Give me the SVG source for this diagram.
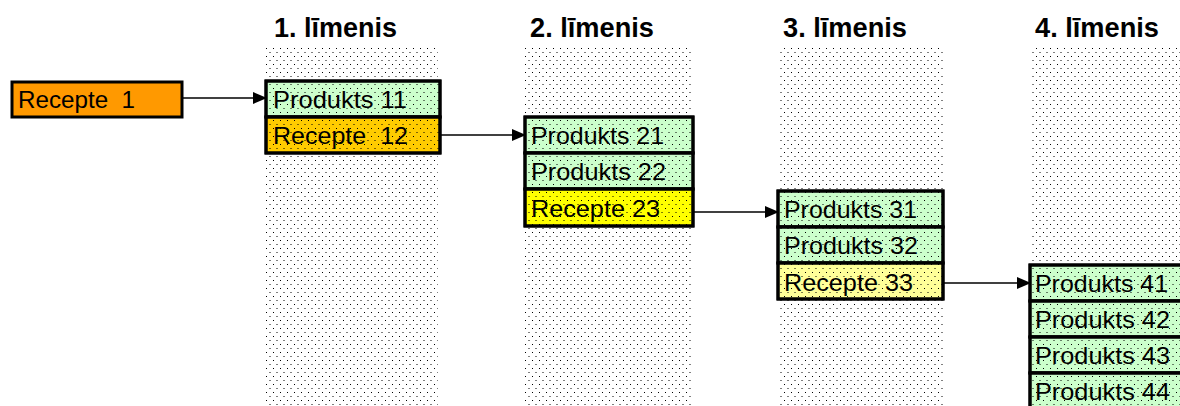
<svg xmlns="http://www.w3.org/2000/svg" width="1180" height="406" viewBox="0 0 1180 406">
  <defs>
    <pattern id="dots" patternUnits="userSpaceOnUse" width="7" height="8" x="0" y="0">
      <rect x="0" y="0" width="1" height="1" fill="#000"/>
      <rect x="3.5" y="4" width="1" height="1" fill="#000"/>
    </pattern>
    <marker id="arrow" markerWidth="14" markerHeight="12" refX="13" refY="6" orient="auto" markerUnits="userSpaceOnUse">
      <path d="M0,0 L14,6 L0,12 Z" fill="#000"/>
    </marker>
  </defs>
  <style>
    .hdr { font-family: "Liberation Sans", Arial, sans-serif; font-weight: bold; font-size: 27px; fill: #000; }
    .lbl { font-family: "Liberation Sans", Arial, sans-serif; font-size: 24px; fill: #000; }
    .cell { stroke: #000; stroke-width: 3; }
    .dots { fill: url(#dots); }
    .prod { fill: #CCFFCC; }
    .rec1 { fill: #FF9900; }
    .rec2 { fill: #FFCC00; }
    .rec3 { fill: #FFFF00; }
    .rec4 { fill: #FFFF99; }
    .link { stroke: #000; stroke-width: 1.6; fill: none; marker-end: url(#arrow); }
  </style>
  <rect width="1180" height="406" fill="#fff"/>

  <!-- level columns -->
  <g id="columns">
    <rect class="dots" x="266" y="47" width="172" height="359"/>
    <rect class="dots" x="525" y="47" width="168" height="359"/>
    <rect class="dots" x="778" y="47" width="166" height="359"/>
    <rect class="dots" x="1030" y="47" width="150" height="359"/>
    <text class="hdr" x="274" y="37" textLength="123" lengthAdjust="spacingAndGlyphs">1. līmenis</text>
    <text class="hdr" x="530" y="37" textLength="124" lengthAdjust="spacingAndGlyphs">2. līmenis</text>
    <text class="hdr" x="783" y="37" textLength="124" lengthAdjust="spacingAndGlyphs">3. līmenis</text>
    <text class="hdr" x="1035" y="37" textLength="124" lengthAdjust="spacingAndGlyphs">4. līmenis</text>
  </g>

  <!-- connectors -->
  <g id="connectors">
    <line class="link" x1="182" y1="98" x2="266" y2="98"/>
    <line class="link" x1="440" y1="135" x2="525" y2="135"/>
    <line class="link" x1="693" y1="212" x2="778" y2="212"/>
    <line class="link" x1="943" y1="283" x2="1030" y2="283"/>
  </g>

  <g id="recepte1">
    <rect class="cell rec1" x="12" y="82" width="170" height="35"/>
    <text class="lbl" x="18" y="108" textLength="117" lengthAdjust="spacingAndGlyphs">Recepte&#160; 1</text>
  </g>

  <g id="produkts11">
    <rect class="cell prod" x="266" y="81" width="174" height="36"/>
    <rect class="dots" x="266" y="81" width="174" height="36"/>
    <rect class="cell" x="266" y="81" width="174" height="36" fill="none"/>
    <text class="lbl" x="273" y="108" textLength="134" lengthAdjust="spacingAndGlyphs">Produkts 11</text>
  </g>
  <g id="recepte12">
    <rect class="cell rec2" x="266" y="117" width="174" height="36"/>
    <rect class="dots" x="266" y="117" width="174" height="36"/>
    <rect class="cell" x="266" y="117" width="174" height="36" fill="none"/>
    <text class="lbl" x="273" y="144" textLength="135" lengthAdjust="spacingAndGlyphs">Recepte&#160; 12</text>
  </g>

  <g id="produkts21">
    <rect class="cell prod" x="525" y="117" width="168" height="36"/>
    <rect class="dots" x="525" y="117" width="168" height="36"/>
    <rect class="cell" x="525" y="117" width="168" height="36" fill="none"/>
    <text class="lbl" x="531" y="144" textLength="133" lengthAdjust="spacingAndGlyphs">Produkts 21</text>
  </g>
  <g id="produkts22">
    <rect class="cell prod" x="525" y="153" width="168" height="36"/>
    <rect class="dots" x="525" y="153" width="168" height="36"/>
    <rect class="cell" x="525" y="153" width="168" height="36" fill="none"/>
    <text class="lbl" x="531" y="180" textLength="135" lengthAdjust="spacingAndGlyphs">Produkts 22</text>
  </g>
  <g id="recepte23">
    <rect class="cell rec3" x="525" y="189" width="168" height="37"/>
    <rect class="dots" x="525" y="189" width="168" height="37"/>
    <rect class="cell" x="525" y="189" width="168" height="37" fill="none"/>
    <text class="lbl" x="531" y="217" textLength="129" lengthAdjust="spacingAndGlyphs">Recepte 23</text>
  </g>

  <g id="produkts31">
    <rect class="cell prod" x="778" y="191" width="165" height="36"/>
    <rect class="dots" x="778" y="191" width="165" height="36"/>
    <rect class="cell" x="778" y="191" width="165" height="36" fill="none"/>
    <text class="lbl" x="784" y="218" textLength="133" lengthAdjust="spacingAndGlyphs">Produkts 31</text>
  </g>
  <g id="produkts32">
    <rect class="cell prod" x="778" y="227" width="165" height="36"/>
    <rect class="dots" x="778" y="227" width="165" height="36"/>
    <rect class="cell" x="778" y="227" width="165" height="36" fill="none"/>
    <text class="lbl" x="784" y="254" textLength="134" lengthAdjust="spacingAndGlyphs">Produkts 32</text>
  </g>
  <g id="recepte33">
    <rect class="cell rec4" x="778" y="263" width="165" height="36"/>
    <rect class="dots" x="778" y="263" width="165" height="36"/>
    <rect class="cell" x="778" y="263" width="165" height="36" fill="none"/>
    <text class="lbl" x="784" y="291" textLength="129" lengthAdjust="spacingAndGlyphs">Recepte 33</text>
  </g>

  <g id="produkts41">
    <rect class="cell prod" x="1030" y="265" width="152" height="36"/>
    <rect class="dots" x="1030" y="265" width="152" height="36"/>
    <rect class="cell" x="1030" y="265" width="152" height="36" fill="none"/>
    <text class="lbl" x="1035" y="292" textLength="133" lengthAdjust="spacingAndGlyphs">Produkts 41</text>
  </g>
  <g id="produkts42">
    <rect class="cell prod" x="1030" y="301" width="152" height="36"/>
    <rect class="dots" x="1030" y="301" width="152" height="36"/>
    <rect class="cell" x="1030" y="301" width="152" height="36" fill="none"/>
    <text class="lbl" x="1035" y="328" textLength="135" lengthAdjust="spacingAndGlyphs">Produkts 42</text>
  </g>
  <g id="produkts43">
    <rect class="cell prod" x="1030" y="337" width="152" height="36"/>
    <rect class="dots" x="1030" y="337" width="152" height="36"/>
    <rect class="cell" x="1030" y="337" width="152" height="36" fill="none"/>
    <text class="lbl" x="1035" y="364" textLength="135" lengthAdjust="spacingAndGlyphs">Produkts 43</text>
  </g>
  <g id="produkts44">
    <rect class="cell prod" x="1030" y="373" width="152" height="36"/>
    <rect class="dots" x="1030" y="373" width="152" height="36"/>
    <rect class="cell" x="1030" y="373" width="152" height="36" fill="none"/>
    <text class="lbl" x="1035" y="400" textLength="135" lengthAdjust="spacingAndGlyphs">Produkts 44</text>
  </g>
</svg>
